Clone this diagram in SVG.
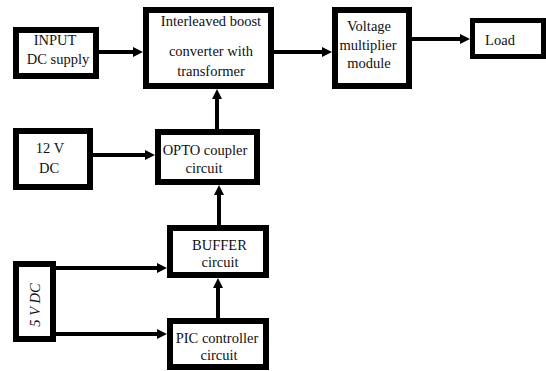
<svg xmlns="http://www.w3.org/2000/svg" width="546" height="371" viewBox="0 0 546 371">
<style>
.box{fill:#fff;stroke:#000;stroke-width:6}
.t{font-family:'Liberation Serif','Times New Roman','DejaVu Serif',serif;font-size:14.5px;fill:#111;text-anchor:middle}
.c{fill:none;stroke:#000;stroke-width:4}
</style>
<defs>
<marker id="ah" viewBox="0 0 10 10" refX="3" refY="5" markerWidth="10" markerHeight="10" markerUnits="userSpaceOnUse" orient="auto">
<path d="M0,0 L10,5 L0,10 z" fill="#000"/>
</marker>
</defs>
<rect width="546" height="371" fill="#fff"/>
<g id="connectors">
<line class="c" x1="99" y1="52" x2="136" y2="52" marker-end="url(#ah)"/>
<line class="c" x1="274" y1="52" x2="325" y2="52" marker-end="url(#ah)"/>
<line class="c" x1="412" y1="39" x2="463" y2="39" marker-end="url(#ah)"/>
<line class="c" x1="93" y1="155" x2="148" y2="155" marker-end="url(#ah)"/>
<line class="c" x1="217" y1="129" x2="217" y2="96" marker-end="url(#ah)"/>
<line class="c" x1="219" y1="225" x2="219" y2="192" marker-end="url(#ah)"/>
<line class="c" x1="218" y1="318" x2="218" y2="285" marker-end="url(#ah)"/>
<line class="c" x1="56" y1="268" x2="160" y2="268" marker-end="url(#ah)"/>
<line class="c" x1="56" y1="334" x2="160" y2="334" marker-end="url(#ah)"/>
</g>
<g font-family="Liberation Serif, serif">
<g id="input">
<rect class="box" x="16" y="30" width="80" height="46"/>
<text class="t" x="55" y="45">INPUT</text>
<text class="t" x="58" y="64">DC supply</text>
</g>
<g id="converter">
<rect class="box" x="146" y="10" width="125" height="76"/>
<text class="t" x="211" y="26">Interleaved boost</text>
<text class="t" x="211" y="56">converter with</text>
<text class="t" x="211" y="76">transformer</text>
</g>
<g id="multiplier">
<rect class="box" x="335" y="10" width="74" height="76"/>
<text class="t" x="369" y="31">Voltage</text>
<text class="t" x="368" y="50">multiplier</text>
<text class="t" x="369" y="68">module</text>
</g>
<g id="load">
<rect class="box" x="472.5" y="20.5" width="71" height="36" style="stroke-width:5"/>
<text class="t" x="500" y="45">Load</text>
</g>
<g id="dc12">
<rect class="box" x="16" y="131" width="74" height="56"/>
<text class="t" x="50" y="153">12 V</text>
<text class="t" x="49" y="173">DC</text>
</g>
<g id="opto">
<rect class="box" x="158" y="132" width="99" height="50"/>
<text class="t" x="205" y="155">OPTO coupler</text>
<text class="t" x="204" y="173">circuit</text>
</g>
<g id="buffer">
<rect class="box" x="170" y="228" width="96" height="47"/>
<text class="t" x="219.5" y="250">BUFFER</text>
<text class="t" x="220" y="267">circuit</text>
</g>
<g id="pic">
<rect class="box" x="170" y="321" width="96" height="46"/>
<text class="t" x="217" y="343">PIC controller</text>
<text class="t" x="219" y="360">circuit</text>
</g>
<g id="dc5">
<rect class="box" x="16" y="264" width="37" height="75"/>
<text class="t" x="0" y="0" font-style="italic" transform="translate(40,305) rotate(-90)">5 V DC</text>
</g>
</g>
</svg>
